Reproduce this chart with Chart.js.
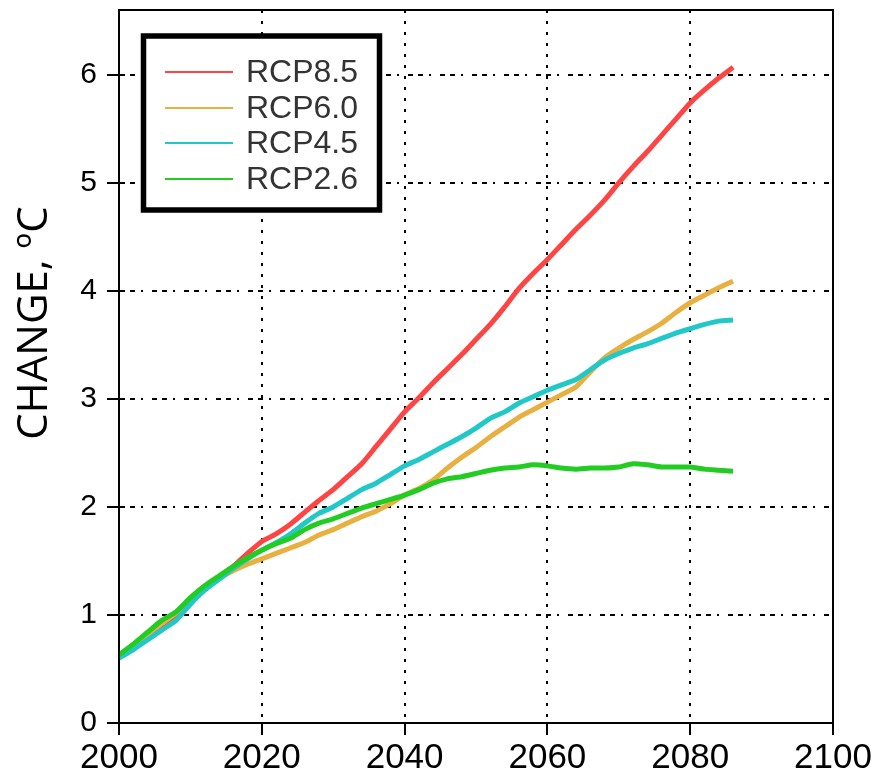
<!DOCTYPE html>
<html>
<head>
<meta charset="utf-8">
<script src="https://cdn.jsdelivr.net/npm/chart.js@4"></script>
<style>
  body { margin: 0; background: #fff; }
  #chart { display: block; }
</style>
</head>
<body>
<canvas id="chart" width="877" height="773"></canvas>
<script>
// years, every 2 years 2000..2086
const years = [2000, 2002, 2004, 2006, 2008, 2010, 2012, 2014, 2016, 2018,
  2020, 2022, 2024, 2026, 2028, 2030, 2032, 2034, 2036, 2038,
  2040, 2042, 2044, 2046, 2048, 2050, 2052, 2054, 2056, 2058,
  2060, 2062, 2064, 2066, 2068, 2070, 2072, 2074, 2076, 2078,
  2080, 2082, 2084, 2086];

const rcp85 = [0.61, 0.70, 0.80, 0.90, 0.98, 1.14, 1.25, 1.35, 1.45, 1.57,
  1.68, 1.75, 1.84, 1.95, 2.06, 2.16, 2.28, 2.40, 2.56, 2.72,
  2.88, 3.01, 3.15, 3.28, 3.41, 3.55, 3.69, 3.85, 4.02, 4.16,
  4.29, 4.43, 4.57, 4.70, 4.84, 5.00, 5.15, 5.29, 5.44, 5.59,
  5.74, 5.86, 5.97, 6.07];

const rcp60 = [0.62, 0.72, 0.82, 0.92, 1.02, 1.15, 1.26, 1.34, 1.41, 1.47,
  1.52, 1.57, 1.62, 1.67, 1.74, 1.79, 1.85, 1.91, 1.96, 2.03,
  2.11, 2.17, 2.25, 2.36, 2.46, 2.55, 2.65, 2.74, 2.83, 2.90,
  2.97, 3.04, 3.11, 3.25, 3.38, 3.47, 3.55, 3.62, 3.70, 3.80,
  3.89, 3.96, 4.03, 4.09];

const rcp45 = [0.60, 0.68, 0.77, 0.86, 0.95, 1.10, 1.23, 1.33, 1.43, 1.52,
  1.60, 1.67, 1.75, 1.85, 1.94, 2.00, 2.08, 2.16, 2.22, 2.30,
  2.38, 2.44, 2.51, 2.58, 2.65, 2.73, 2.82, 2.88, 2.96, 3.02,
  3.08, 3.13, 3.18, 3.27, 3.36, 3.42, 3.47, 3.51, 3.56, 3.61,
  3.65, 3.69, 3.72, 3.73];

const rcp26 = [0.63, 0.73, 0.84, 0.95, 1.03, 1.16, 1.27, 1.36, 1.45, 1.53,
  1.60, 1.66, 1.71, 1.79, 1.85, 1.89, 1.94, 1.99, 2.03, 2.07,
  2.11, 2.16, 2.22, 2.26, 2.28, 2.31, 2.34, 2.36, 2.37, 2.39,
  2.38, 2.36, 2.35, 2.36, 2.36, 2.37, 2.40, 2.39, 2.37, 2.37,
  2.37, 2.35, 2.34, 2.33];

const seriesNames = ['RCP8.5', 'RCP6.0', 'RCP4.5', 'RCP2.6'];
const seriesColors = ['#ff4444', '#e8b040', '#22c8c8', '#22cc22'];
const yTitle = 'CHANGE, ºC';

const toPoints = (vals) => vals.map((v, i) => ({ x: years[i], y: v }));

// draws the box around the plot, the boxed legend and the y title
const framePlugin = {
  id: 'frame',
  afterDraw(chart) {
    const ctx = chart.ctx;
    const a = chart.chartArea;
    ctx.save();
    ctx.setLineDash([]);
    ctx.strokeStyle = '#000';
    ctx.lineWidth = 2;
    ctx.strokeRect(a.left, a.top, a.right - a.left, a.bottom - a.top);

    // legend
    ctx.fillStyle = '#fff';
    ctx.fillRect(143.5, 36, 236, 174);
    ctx.lineWidth = 5.5;
    ctx.strokeRect(143.5, 36, 236, 174);
    const rows = [72, 108, 143, 179];
    ctx.font = '32px "Liberation Sans"';
    ctx.textBaseline = 'middle';
    chart.data.datasets.forEach((ds, i) => {
      ctx.strokeStyle = ds.borderColor;
      ctx.lineWidth = 2;
      ctx.beginPath();
      ctx.moveTo(165, rows[i]);
      ctx.lineTo(233, rows[i]);
      ctx.stroke();
      ctx.fillStyle = '#333';
      ctx.fillText(ds.label, 246, rows[i] + 1);
    });

    // y axis title
    ctx.translate(47, 323);
    ctx.rotate(-Math.PI / 2);
    ctx.font = '42px "Open Sans"';
    ctx.textAlign = 'center';
    ctx.textBaseline = 'alphabetic';
    ctx.fillStyle = '#000';
    ctx.fillText(yTitle, 0, 0);
    ctx.restore();
  }
};

const datasets = [rcp85, rcp60, rcp45, rcp26].map((vals, i) => ({
  label: seriesNames[i],
  data: toPoints(vals),
  borderColor: seriesColors[i],
  backgroundColor: seriesColors[i],
  borderWidth: 5,
  pointRadius: 0,
  tension: 0.2,
  order: 3 - i
}));

new Chart(document.getElementById('chart'), {
  type: 'line',
  data: { datasets },
  options: {
    responsive: false,
    animation: false,
    layout: { padding: { top: 10, right: 44, left: 0, bottom: 0 } },
    plugins: {
      legend: { display: false },
      tooltip: { enabled: false }
    },
    scales: {
      x: {
        type: 'linear',
        min: 2000,
        max: 2100,
        afterFit: (s) => { s.height = 50; s.paddingLeft = 0; s.paddingRight = 0; },
        ticks: {
          stepSize: 20,
          color: '#000',
          font: { family: '"Liberation Sans"', size: 35 },
          padding: 2,
          maxRotation: 0,
          autoSkip: false,
          callback: (v) => String(v)
        },
        grid: {
          color: '#000',
          lineWidth: 2,
          tickBorderDash: [],
          tickColor: '#000',
          tickWidth: 2,
          tickLength: 12
        },
        border: { display: true, color: '#000', width: 2, dash: [3, 8] }
      },
      y: {
        min: 0,
        max: 6.6,
        afterFit: (s) => { s.width = 119; s.paddingTop = 0; s.paddingBottom = 0; },
        ticks: {
          stepSize: 1,
          includeBounds: false,
          color: '#000',
          font: { family: '"Liberation Sans"', size: 30 },
          padding: 10
        },
        grid: {
          color: '#000',
          lineWidth: 2,
          tickBorderDash: [],
          tickColor: '#000',
          tickWidth: 2,
          tickLength: 12
        },
        border: { display: true, color: '#000', width: 2, dash: [5, 5, 5, 6, 2, 9] }
      }
    }
  },
  plugins: [framePlugin]
});
</script>
</body>
</html>
